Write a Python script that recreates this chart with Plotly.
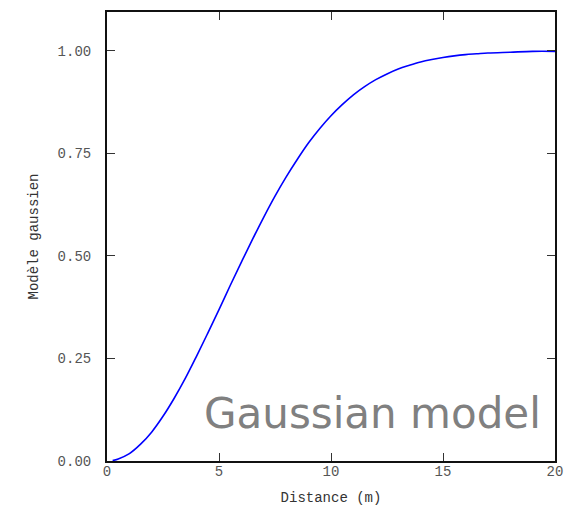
import plotly.graph_objects as go

distance = [0.25, 0.5, 1, 1.5, 2, 2.5, 3, 3.5, 4, 4.5, 5, 5.5, 6, 6.5, 7, 7.5, 8, 8.5, 9, 9.5,
            10, 10.5, 11, 11.5, 12, 12.5, 13, 13.5, 14, 14.5, 15, 15.5, 16, 16.5, 17, 18, 19, 20]
gaussian = [0.001, 0.005, 0.018, 0.041, 0.071, 0.109, 0.153, 0.202, 0.256, 0.312, 0.369, 0.428,
            0.485, 0.541, 0.595, 0.646, 0.693, 0.736, 0.776, 0.811, 0.842, 0.869, 0.893, 0.913,
            0.930, 0.944, 0.956, 0.965, 0.973, 0.979, 0.984, 0.988, 0.991, 0.993, 0.995, 0.997,
            0.999, 0.999]
x_ticks = [0, 5, 10, 15, 20]
y_ticks = [0.0, 0.25, 0.5, 0.75, 1.0]
y_tick_labels = ["0.00", "0.25", "0.50", "0.75", "1.00"]

fig = go.Figure()
fig.add_trace(go.Scatter(x=distance, y=gaussian, mode="lines",
                         line=dict(color="#0000ff", width=1.6, shape="spline"),
                         showlegend=False, hoverinfo="skip"))

mono = "Liberation Mono, Courier New, monospace"
fig.update_layout(
    width=564, height=498,
    margin=dict(l=99, r=17, t=4, b=45),
    paper_bgcolor="white", plot_bgcolor="white",
    xaxis=dict(range=[0, 20], tickvals=x_ticks, ticks="inside", ticklen=8, tickwidth=1,
               tickcolor="#333333", showline=True, linecolor="#111111", linewidth=2,
               mirror="ticks", showgrid=False, zeroline=False, ticklabelstandoff=-4,
               automargin=False,
               tickfont=dict(family=mono, size=14, color="#555555"),
               title=dict(text="Distance (m)", font=dict(family=mono, size=14, color="#333333"),
                          standoff=19)),
    yaxis=dict(range=[0, 1.095], tickvals=y_ticks, ticktext=y_tick_labels, ticks="inside",
               ticklen=8, tickwidth=1, tickcolor="#333333", showline=True,
               linecolor="#111111", linewidth=2, mirror="ticks", showgrid=False,
               zeroline=False, ticklabelstandoff=11, automargin=False,
               tickfont=dict(family=mono, size=14, color="#555555"),
               title=dict(text="Modèle gaussien", font=dict(family=mono, size=14, color="#333333"),
                          standoff=16)),
    annotations=[dict(text="Gaussian model", x=0.973, y=0.0477, xref="paper", yref="paper",
                      xanchor="right", yanchor="bottom", showarrow=False,
                      font=dict(family="DejaVu Sans, Verdana, sans-serif", size=42,
                                color="#808080"))],
)

fig.write_html("out.html")
